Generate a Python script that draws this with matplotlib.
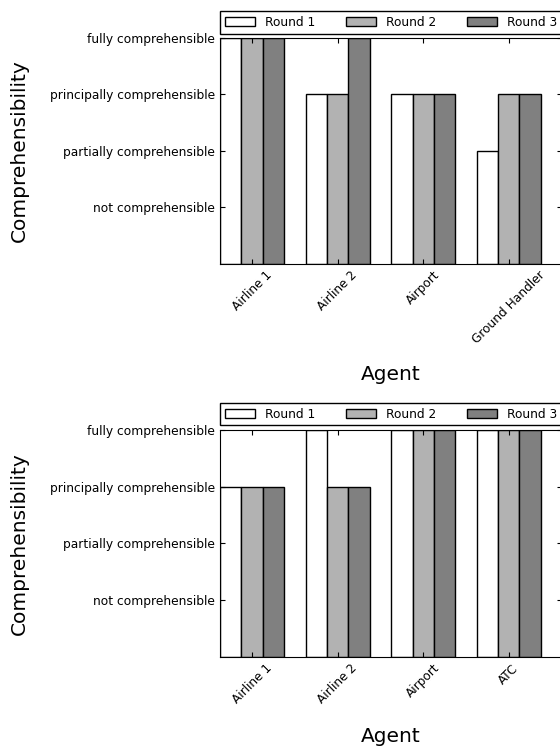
import numpy as np
import matplotlib
matplotlib.use("Agg")
import matplotlib.pyplot as plt

# --------------------------------------------------------------------------- #
# Daten (1 = not ... 4 = fully comprehensible)
# --------------------------------------------------------------------------- #
LEVELS = ["not comprehensible", "partially comprehensible",
          "principally comprehensible", "fully comprehensible"]
ROUNDS = ["Round 1", "Round 2", "Round 3"]
COLORS = ["white", "#b2b2b2", "#808080"]

agents_top = ["Airline 1", "Airline 2", "Airport", "Ground Handler"]
round1_top = [4, 3, 3, 2]
round2_top = [4, 3, 3, 3]
round3_top = [4, 4, 3, 3]

agents_bottom = ["Airline 1", "Airline 2", "Airport", "ATC"]
round1_bottom = [3, 4, 4, 4]
round2_bottom = [3, 3, 4, 4]
round3_bottom = [3, 3, 4, 4]

W = 0.25

plt.rcParams.update({
    "xtick.direction": "in", "ytick.direction": "in",
    "xtick.top": True, "ytick.right": True,
    "legend.fancybox": False,
})


def draw(ax, agents, series, xlab_y):
    x = np.arange(len(agents))
    for i, (vals, lab, col) in enumerate(zip(series, ROUNDS, COLORS)):
        ax.bar(x + i * W, vals, W, align="edge", color=col,
               edgecolor="black", linewidth=1, label=lab)
    ax.set_xlim(0, len(agents))
    ax.set_ylim(0, 4)
    ax.set_xticks(x + 1.5 * W)
    ax.set_xticklabels(agents, rotation=45, fontsize=8.7)
    ax.set_yticks([1, 2, 3, 4])
    ax.set_yticklabels(LEVELS, fontsize=8.8)
    ax.set_xlabel("Agent", fontsize=14.5)
    ax.set_ylabel("Comprehensibility", fontsize=14.5)
    ax.xaxis.set_label_coords(0.5, xlab_y)
    ax.yaxis.set_label_coords(-0.56, 0.5)
    ax.legend(bbox_to_anchor=(0, 1.02, 1, 0.102), loc="lower left",
              ncol=3, mode="expand", borderaxespad=0, fontsize=8.7,
              handlelength=2.5, edgecolor="black", framealpha=1)


fig = plt.figure(figsize=(5.6, 7.47), dpi=100)
ax1 = fig.add_axes([0.393, 0.647, 0.611, 0.302])
ax2 = fig.add_axes([0.393, 0.1205, 0.611, 0.304])
draw(ax1, agents_top, [round1_top, round2_top, round3_top], -0.45)
draw(ax2, agents_bottom, [round1_bottom, round2_bottom, round3_bottom], -0.31)

fig.savefig("out.png", dpi=100)
